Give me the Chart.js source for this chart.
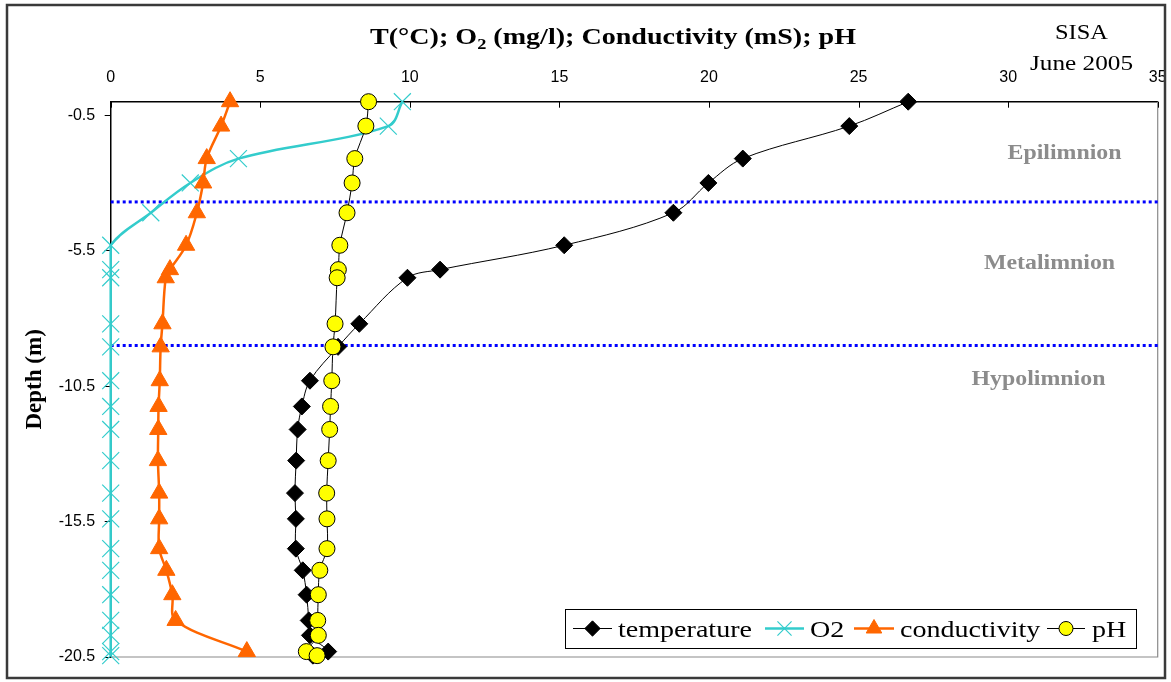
<!DOCTYPE html>
<html><head><meta charset="utf-8">
<script src="https://cdn.jsdelivr.net/npm/chart.js@4.4.1/dist/chart.umd.min.js"></script>
<style>html,body{margin:0;padding:0;background:#fff;overflow:hidden}</style>
</head><body>
<canvas id="c" width="1171" height="682"></canvas>
<script>
// ---- data ----
const depths = [0,-0.9,-2.1,-3,-4.1,-5.3,-6.2,-6.5,-8.2,-9.05,-10.3,-11.25,-12.1,-13.25,-14.45,-15.4,-16.5,-17.3,-18.2,-19.15,-19.7,-20.3,-20.45];
const temperature = [26.66,24.69,21.13,19.98,18.81,15.16,11.01,9.92,8.31,7.6,6.66,6.39,6.25,6.2,6.16,6.19,6.19,6.42,6.55,6.62,6.66,7.27,6.76];
const o2 = [9.75,9.28,4.27,2.66,1.34,0,0,0,0,0,0,0,0,0,0,0,0,0,0,0,0,0,0];
const condDepths = [0,-0.9,-2.1,-3,-4.1,-5.3,-6.2,-6.5,-8.2,-9.05,-10.3,-11.25,-12.1,-13.25,-14.45,-15.4,-16.5,-17.3,-18.2,-19.15,-20.3];
const conductivity = [3.99,3.69,3.21,3.09,2.88,2.52,1.98,1.84,1.73,1.67,1.64,1.6,1.59,1.58,1.62,1.62,1.62,1.86,2.06,2.17,4.55];
const pH = [8.62,8.53,8.16,8.07,7.9,7.66,7.61,7.57,7.5,7.43,7.39,7.35,7.32,7.27,7.22,7.23,7.23,6.99,6.94,6.92,6.94,6.54,6.9];
const layerBounds = [-3.7, -9];
const layerNames = ['Epilimnion','Metalimnion','Hypolimnion'];
const seriesNames = ['temperature','O2','conductivity','pH'];
const xTicks = [0,5,10,15,20,25,30,35];
const yTicks = [-0.5,-5.5,-10.5,-15.5,-20.5];
const xRange = [0,35];
const yRange = [-20.5,0];

const pts = (xs, ys) => xs.map((v,i)=>({x:v, y:ys[i]}));

const SERIF = '"Liberation Serif", "Times New Roman", serif';
const SANS = '"Liberation Sans", Arial, sans-serif';

function fitText(ctx, text, x, y, w, font, color, align) {
  ctx.save();
  ctx.font = font; ctx.fillStyle = color; ctx.textBaseline = 'alphabetic'; ctx.textAlign = 'left';
  const m = ctx.measureText(text).width;
  const s = w / m;
  const left = align === 'center' ? x - w/2 : (align === 'right' ? x - w : x);
  ctx.translate(left, y); ctx.scale(s, 1); ctx.fillText(text, 0, 0);
  ctx.restore();
  return s;
}
function scaledText(ctx, text, x, y, s, font, color, align) {
  ctx.save();
  ctx.font = font; ctx.fillStyle = color; ctx.textBaseline = 'alphabetic'; ctx.textAlign = 'left';
  const w = ctx.measureText(text).width * s;
  const left = align === 'center' ? x - w/2 : (align === 'right' ? x - w : x);
  ctx.translate(left, y); ctx.scale(s, 1); ctx.fillText(text, 0, 0);
  ctx.restore();
}

const styles = [
  {borderColor:'#000000', borderWidth:1, pointStyle:'rectRot', pointRadius:8.5, pointBackgroundColor:'#000000', pointBorderColor:'#000000', pointBorderWidth:1},
  {borderColor:'#33CCCC', borderWidth:2.5, pointStyle:'crossRot', pointRadius:12, pointBackgroundColor:'#33CCCC', pointBorderColor:'#33CCCC', pointBorderWidth:1.2},
  {borderColor:'#FF6600', borderWidth:2.5, pointStyle:'triangle', pointRadius:10, pointBackgroundColor:'#FF6600', pointBorderColor:'#FF6600', pointBorderWidth:1},
  {borderColor:'#000000', borderWidth:1, pointStyle:'circle', pointRadius:8, pointBackgroundColor:'#FFFF00', pointBorderColor:'#000000', pointBorderWidth:1}
];

const deco = {
  id: 'deco',
  beforeDraw(chart) {
    const ctx = chart.ctx;
    ctx.save(); ctx.fillStyle = '#fff'; ctx.fillRect(0,0,chart.width,chart.height); ctx.restore();
  },
  beforeDatasetsDraw(chart) {
    const {ctx, chartArea:a} = chart;
    ctx.save();
    ctx.strokeStyle = '#8a8a8a'; ctx.lineWidth = 1.2;
    ctx.beginPath();
    ctx.moveTo(a.right, a.top); ctx.lineTo(a.right, a.bottom); ctx.lineTo(a.left, a.bottom);
    ctx.stroke();
    // inward ticks on the top axis
    ctx.strokeStyle = '#000'; ctx.lineWidth = 1;
    const xs = chart.scales.x;
    xTicks.forEach(v => {
      const px = Math.round(xs.getPixelForValue(v)) + 0.5;
      ctx.beginPath(); ctx.moveTo(px, a.top); ctx.lineTo(px, a.top + 6); ctx.stroke();
    });
    ctx.restore();
  },
  afterDraw(chart) {
    const ctx = chart.ctx;
    // outer frame
    ctx.save();
    ctx.strokeStyle = '#3a3a3a'; ctx.lineWidth = 2.5;
    ctx.strokeRect(7, 5, 1158, 673);
    ctx.restore();

    // title with subscript
    ctx.save();
    const f1 = 'bold 23px ' + SERIF, f2 = 'bold 15px ' + SERIF;
    const pa = 'T(°C); O', pb = '2', pc = ' (mg/l); Conductivity (mS); pH';
    ctx.font = f1; const wa = ctx.measureText(pa).width, wc = ctx.measureText(pc).width;
    ctx.font = f2; const wb = ctx.measureText(pb).width;
    const s = 486 / (wa + wb + wc);
    let x = 370;
    scaledText(ctx, pa, x, 43.5, s, f1, '#000', 'left'); x += wa * s;
    scaledText(ctx, pb, x, 49, s, f2, '#000', 'left'); x += wb * s;
    scaledText(ctx, pc, x, 43.5, s, f1, '#000', 'left');
    ctx.restore();

    // SISA / June 2005
    fitText(ctx, 'SISA', 1081.5, 38.5, 53, '21px ' + SERIF, '#000', 'center');
    fitText(ctx, 'June 2005', 1081.5, 70, 103, '21px ' + SERIF, '#000', 'center');

    // layer labels
    const lf = 'bold 22px ' + SERIF, lc = '#8c8c8c';
    const ls = fitText(ctx, layerNames[0], 1064.5, 158.5, 114, lf, lc, 'center');
    scaledText(ctx, layerNames[1], 1049.5, 268.5, ls, lf, lc, 'center');
    scaledText(ctx, layerNames[2], 1038.5, 384.5, ls, lf, lc, 'center');

    // legend
    ctx.save();
    ctx.fillStyle = '#fff'; ctx.fillRect(565, 609, 572, 39);
    ctx.strokeStyle = '#000'; ctx.lineWidth = 1;
    ctx.strokeRect(565.5, 609.5, 571, 39);
    ctx.restore();
    const items = [
      {l:573, r:612, m:592.5, t:618},
      {l:765, r:804, m:784.5, t:810},
      {l:854, r:894, m:874, t:900},
      {l:1047, r:1085, m:1066, t:1092}
    ];
    const legFont = '24px ' + SERIF;
    ctx.save(); ctx.font = legFont; const lgs = 134 / ctx.measureText(seriesNames[0]).width; ctx.restore();
    const ly = 628.5;
    items.forEach((it, i) => {
      const st = styles[i];
      ctx.save();
      ctx.strokeStyle = st.borderColor; ctx.lineWidth = st.borderWidth;
      ctx.beginPath(); ctx.moveTo(it.l, ly); ctx.lineTo(it.r, ly); ctx.stroke();
      ctx.fillStyle = st.pointBackgroundColor; ctx.strokeStyle = st.pointBorderColor; ctx.lineWidth = st.pointBorderWidth;
      const r = i === 1 ? 10 : (i === 3 ? 7 : st.pointRadius * 0.9);
      Chart.helpers.drawPoint(ctx, {pointStyle: st.pointStyle, radius: r, rotation: 0, borderWidth: st.pointBorderWidth}, it.m, ly);
      ctx.restore();
      scaledText(ctx, seriesNames[i], it.t, 637, lgs, legFont, '#000', 'left');
    });
  }
};

const mk = (label, data, st, order) => Object.assign({
  label, data, showLine: true, tension: 0.35, clip: false, order,
  pointHoverRadius: st.pointRadius
}, st);

const datasets = [
  mk(seriesNames[0], pts(temperature, depths), styles[0], 3),
  mk(seriesNames[1], pts(o2, depths), styles[1], 2),
  mk(seriesNames[2], pts(conductivity, condDepths), styles[2], 1),
  mk(seriesNames[3], pts(pH, depths), styles[3], 0)
];
layerBounds.forEach(d => datasets.push({
  label: 'boundary', data: [{x:xRange[0], y:d},{x:xRange[1], y:d}], showLine:true, tension:0,
  borderColor:'#0000FF', borderWidth:3, borderDash:[3,3], pointRadius:0, order:5, clip:false
}));

new Chart(document.getElementById('c'), {
  type: 'scatter',
  data: { datasets },
  options: {
    responsive: false, animation: false, events: [],
    layout: { padding: { left: 0, top: 0, right: 13.3, bottom: 25 } },
    plugins: { legend: { display: false }, tooltip: { enabled: false }, title: { display: false } },
    scales: {
      x: {
        type: 'linear', position: 'top', min: xRange[0], max: xRange[1],
        afterBuildTicks: s => { s.ticks = xTicks.map(v => ({value: v})); },
        afterFit: s => { s.height = 101.7; s.paddingLeft = 0; s.paddingRight = 0; },
        grid: { display: false, drawTicks: false, drawOnChartArea: false },
        border: { display: true, color: '#000', width: 1.5 },
        ticks: { font: { family: SANS, size: 16 }, color: '#000', padding: 15, maxRotation: 0, autoSkip: false,
                 callback: v => String(v) }
      },
      y: {
        type: 'linear', min: yRange[0], max: yRange[1],
        afterBuildTicks: s => { s.ticks = yTicks.map(v => ({value: v})); },
        afterFit: s => { s.width = 110.7; s.paddingTop = 0; s.paddingBottom = 0; },
        grid: { display: true, drawOnChartArea: false, drawTicks: true, tickLength: 6, color: '#000', lineWidth: 1 },
        border: { display: true, color: '#000', width: 1.5 },
        ticks: { font: { family: SANS, size: 16 }, color: '#000', padding: 9.5, autoSkip: false,
                 callback: v => String(v) },
        title: { display: true, text: 'Depth (m)', color: '#000',
                 font: { family: SERIF, size: 23, weight: 'bold' }, padding: { top: 21, bottom: 0 } }
      }
    }
  },
  plugins: [deco]
});
</script>
</body></html>
